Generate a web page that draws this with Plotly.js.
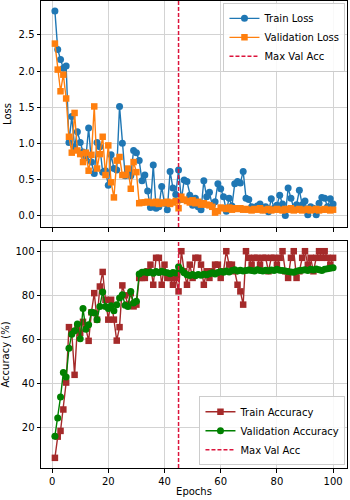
<!DOCTYPE html>
<html>
<head>
<meta charset="utf-8">
<script src="https://cdn.plot.ly/plotly-3.0.1.min.js"></script>
<style>html,body{margin:0;padding:0;background:#fff;}#chart{width:350px;height:500px;}</style>
</head>
<body>
<div id="chart"></div>
<script>
const epochs = Array.from({length: 100}, (_, i) => i + 1);

const trainLoss = [2.83,2.30,2.16,2.04,2.07,1.01,1.37,0.95,1.16,1.01,
  0.88,0.80,1.21,0.74,0.58,1.01,0.95,0.60,0.62,0.42,
  0.84,0.65,0.63,1.51,1.00,0.55,0.62,0.55,0.90,0.87,
  0.76,0.48,0.56,0.34,0.11,0.70,0.10,0.12,0.40,0.17,
  0.08,0.61,0.38,0.29,0.63,0.22,0.49,0.47,0.28,0.14,
  0.24,0.12,0.08,0.48,0.26,0.32,0.14,0.19,0.44,0.37,
  0.26,0.06,0.24,0.13,0.44,0.47,0.45,0.61,0.24,0.22,
  0.12,0.10,0.13,0.16,0.08,0.12,0.05,0.23,0.10,0.14,
  0.28,0.16,0.00,0.38,0.24,0.10,0.15,0.35,0.15,0.20,
  0.01,0.12,0.10,0.01,0.17,0.25,0.24,0.12,0.23,0.16];

const valLoss = [2.38,2.02,1.72,1.95,1.62,1.09,0.87,1.42,0.90,0.85,
  0.74,0.87,0.62,0.84,1.51,0.65,0.85,1.09,0.56,0.97,
  0.46,0.25,0.76,0.81,0.56,0.56,0.65,0.37,0.74,0.60,
  0.17,0.18,0.18,0.19,0.18,0.17,0.19,0.16,0.18,0.17,
  0.19,0.16,0.18,0.20,0.10,0.26,0.22,0.20,0.18,0.21,
  0.17,0.19,0.15,0.17,0.15,0.14,0.12,0.04,0.06,0.11,
  0.10,0.09,0.11,0.08,0.10,0.09,0.10,0.08,0.09,0.08,
  0.07,0.09,0.08,0.10,0.07,0.08,0.09,0.07,0.08,0.09,
  0.08,0.07,0.09,0.08,0.10,0.07,0.08,0.09,0.07,0.08,
  0.09,0.07,0.08,0.09,0.07,0.08,0.09,0.08,0.07,0.08];

const trainAcc = [6.4,16,18.6,28.3,40.5,65.6,63.2,44,65.6,63,
  68,65,59.4,72.3,81,69,84,90.6,78,69,
  78,69,59.5,65.6,84.5,80,75.8,81,75,75.8,
  87.9,87.9,87.9,90.9,93.9,84.8,97,97,84.8,93.9,
  87.9,87.9,84.8,87.9,81.8,100,90.9,84.8,93.9,87.9,
  97,97,93.9,84.8,90.9,87.9,90.9,93.9,93.9,87.9,
  90.9,100,93.9,93.9,90.9,84.8,81.8,75.8,100,97,
  93.9,97,97,93.9,97,97,90.9,97,97,93.9,
  97,100,90.9,87.9,97,100,87.9,90.9,97,100,
  93.9,97,90.9,97,100,97,100,97,93.9,97];

const valAcc = [16.2,24.5,34,45,43,56,62.4,64,67,60.3,
  74,64.7,66.7,72.4,72,69,75,81.5,75,74,
  75.3,73,75.7,78.8,80.3,75.5,75,81.8,76.5,77.3,
  89.7,90.5,90.6,90.2,90.6,90,90.8,90.3,90.9,90.5,
  90.2,89.8,90.4,90.1,93.0,91.5,90.2,89.3,89.0,89.5,
  88.9,89.4,89.1,89.6,89.3,89.8,90.2,89.7,90.4,90.8,
  90.5,91.0,90.6,91.2,91.6,91.0,91.4,91.0,91.3,91.5,
  91.2,91.0,91.6,91.3,91.0,91.4,91.1,91.5,91.2,91.8,
  91.4,91.2,91.0,90.8,90.6,90.5,90.9,91.2,91.4,91.6,
  91.3,91.8,91.5,91.9,91.6,91.3,91.8,92.1,92.3,92.5];

const xTicks = [0, 20, 40, 60, 80, 100];
const lossTicks = [0.0, 0.5, 1.0, 1.5, 2.0, 2.5];
const lossTickText = ['0.0','0.5','1.0','1.5','2.0','2.5'];
const accTicks = [20, 40, 60, 80, 100];

// epoch of maximum validation accuracy
let maxEpoch = epochs[0], best = -Infinity;
valAcc.forEach((v, i) => { if (v > best) { best = v; maxEpoch = epochs[i]; } });

const F = 'DejaVu Sans, sans-serif';
const lw = 1.4, ms = 7;

const traces = [
  {x: epochs, y: trainLoss, name: 'Train Loss', type: 'scatter', mode: 'lines+markers',
   line: {color: '#1f77b4', width: lw}, marker: {color: '#1f77b4', size: ms, symbol: 'circle'},
   xaxis: 'x', yaxis: 'y', legend: 'legend'},
  {x: epochs, y: valLoss, name: 'Validation Loss', type: 'scatter', mode: 'lines+markers',
   line: {color: '#ff7f0e', width: lw}, marker: {color: '#ff7f0e', size: ms - 0.5, symbol: 'square'},
   xaxis: 'x', yaxis: 'y', legend: 'legend'},
  {x: epochs, y: trainAcc, name: 'Train Accuracy', type: 'scatter', mode: 'lines+markers',
   line: {color: '#a52a2a', width: lw}, marker: {color: '#a52a2a', size: ms - 0.5, symbol: 'square'},
   xaxis: 'x2', yaxis: 'y2', legend: 'legend2'},
  {x: epochs, y: valAcc, name: 'Validation Accuracy', type: 'scatter', mode: 'lines+markers',
   line: {color: '#008000', width: lw}, marker: {color: '#008000', size: ms, symbol: 'circle'},
   xaxis: 'x2', yaxis: 'y2', legend: 'legend2'}
];

const vline = (xr, yr, leg) => ({
  type: 'line', xref: xr, yref: yr + ' domain', x0: maxEpoch, x1: maxEpoch, y0: 0, y1: 1,
  line: {color: '#dc143c', width: 1.5, dash: '4px,2px'},
  showlegend: true, name: 'Max Val Acc', legend: leg, layer: 'above'
});

const axBase = {
  showgrid: true, gridcolor: '#d3d3d3', gridwidth: 1,
  showline: true, linecolor: '#000', linewidth: 1, mirror: true,
  ticks: 'outside', ticklen: 3.5, tickwidth: 1, tickcolor: '#000',
  zeroline: false, tickfont: {family: F, size: 10, color: '#000'}
};

const layout = {
  width: 350, height: 500,
  margin: {l: 41, r: 3, t: 1, b: 32},
  paper_bgcolor: '#fff', plot_bgcolor: '#fff',
  font: {family: F, size: 10, color: '#000'},
  xaxis: Object.assign({}, axBase, {domain: [0, 1], anchor: 'y', range: [-3.95, 104.95],
    tickvals: xTicks, showticklabels: false}),
  yaxis: Object.assign({}, axBase, {domain: [0.516, 1], anchor: 'x', range: [-0.16, 2.97],
    tickvals: lossTicks, ticktext: lossTickText,
    title: {text: 'Loss', font: {family: F, size: 10}, standoff: 5}}),
  xaxis2: Object.assign({}, axBase, {domain: [0, 1], anchor: 'y2', range: [-3.95, 104.95],
    tickvals: xTicks, title: {text: 'Epochs', font: {family: F, size: 10}, standoff: 2}}),
  yaxis2: Object.assign({}, axBase, {domain: [0, 0.486], anchor: 'x2', range: [1.8, 104.6],
    tickvals: accTicks,
    title: {text: 'Accuracy (%)', font: {family: F, size: 10}, standoff: 5}}),
  shapes: [vline('x', 'y', 'legend'), vline('x2', 'y2', 'legend2')],
  legend: {x: 0.995, y: 0.996, xanchor: 'right', yanchor: 'top',
    bgcolor: 'rgba(255,255,255,0.85)', bordercolor: '#cccccc', borderwidth: 1,
    font: {family: F, size: 10, color: '#000'}, tracegroupgap: 0},
  legend2: {x: 0.995, y: 0.006, xanchor: 'right', yanchor: 'bottom',
    bgcolor: 'rgba(255,255,255,0.85)', bordercolor: '#cccccc', borderwidth: 1,
    font: {family: F, size: 10, color: '#000'}, tracegroupgap: 0},
  showlegend: true
};

Plotly.newPlot('chart', traces, layout, {displayModeBar: false, staticPlot: true});
</script>
</body>
</html>
